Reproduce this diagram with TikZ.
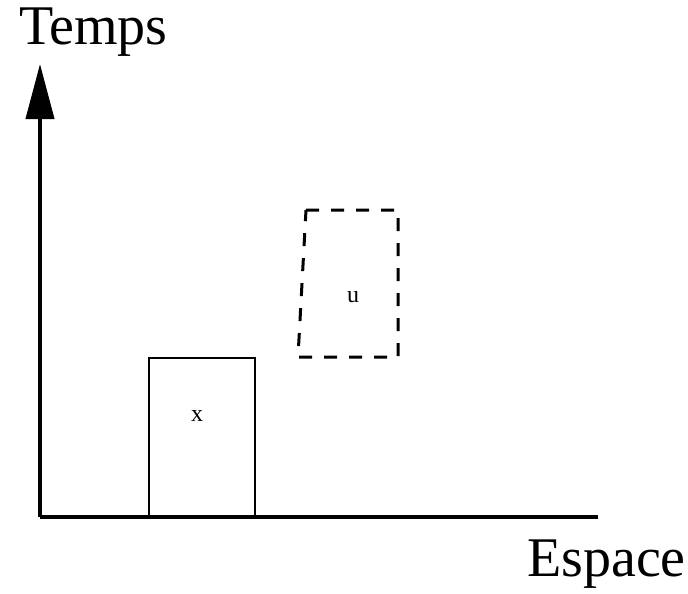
\documentclass[tikz,border=0pt]{standalone}
\usepackage{fontspec}
\setmainfont{Liberation Serif}
\usetikzlibrary{arrows.meta}

\begin{document}
\begin{tikzpicture}[x=1pt, y=-1pt,
  axis/.style={line width=4pt, -{Triangle[length=55pt, width=28pt]}},
  bigtext/.style={font=\fontsize{56}{66}\selectfont, inner sep=0pt},
  smalltext/.style={font=\fontsize{24}{28}\selectfont, inner sep=0pt}]
  \useasboundingbox (0,0) rectangle (688,594);
  % axes
  \coordinate (o) at (40,517);
  \coordinate (ytip) at (40,64);
  \coordinate (xend) at (598,517);
  \draw[axis] (o) -- (ytip);
  \draw[line width=4pt] (o) -- (xend);
  \node[bigtext, anchor=base west] (temps) at (19,45) {Temps};
  \node[bigtext, anchor=base east] (espace) at (686,576) {Espace};
  % solid box
  \coordinate (xa) at (149,517);
  \coordinate (xb) at (149,358);
  \coordinate (xc) at (255,358);
  \coordinate (xd) at (255,517);
  \draw[line width=2.2pt] (xa) -- (xb) -- (xc) -- (xd);
  \node[smalltext] (x) at (197,416) {x};
  % dashed box
  \coordinate (ua) at (298,357);
  \coordinate (ub) at (306,210);
  \coordinate (uc) at (398,210);
  \coordinate (ud) at (398,357);
  \draw[line width=3pt, dash pattern=on 13pt off 12pt] (ub) -- (uc) -- (ud) -- (ua) -- cycle;
  \node[smalltext] (u) at (353,297) {u};
\end{tikzpicture}
\end{document}
